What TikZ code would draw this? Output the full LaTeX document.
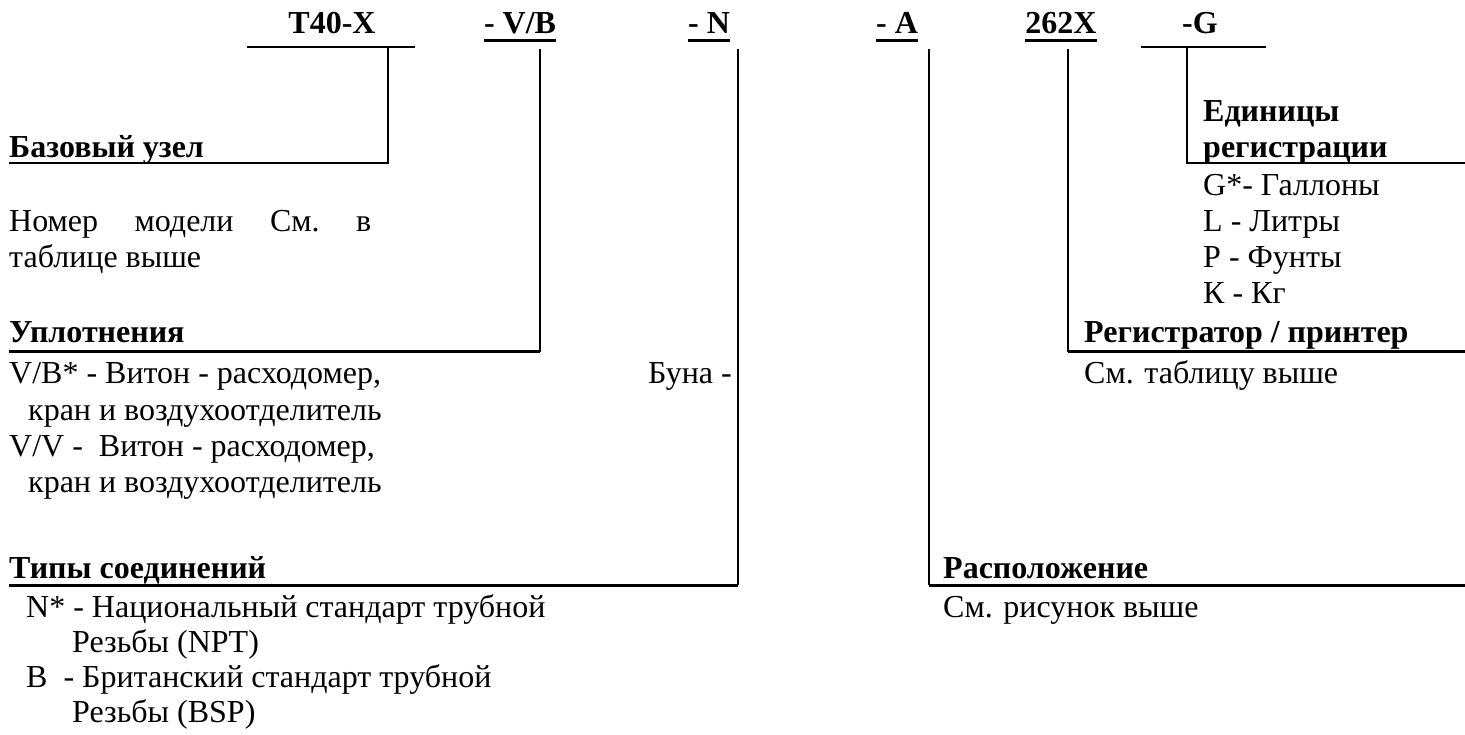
\documentclass[tikz,border=0pt]{standalone}
\usepackage{fontspec}
\setmainfont{Liberation Serif}
\begin{document}
\begin{tikzpicture}[x=1pt,y=-1pt,
  txt/.style={anchor=base west,inner sep=0pt,font=\fontsize{32}{36}\selectfont},
  bld/.style={anchor=base west,inner sep=0pt,font=\fontsize{32}{36}\selectfont\bfseries},
  hdr/.style={anchor=base,inner sep=0pt,font=\fontsize{32}{36}\selectfont\bfseries},
  thinln/.style={line width=2pt},
  thickln/.style={line width=3pt},
  uline/.style={line width=3pt}]
\useasboundingbox (0,0) rectangle (1465,735);

% header codes
\node[hdr] (h1) at (332,34) {T40-X};
\node[hdr] (h2) at (520,34) {- V/B};
\node[hdr] (h3) at (709,34) {- N};
\node[hdr] (h4) at (897,34) {- A};
\node[hdr] (h5) at (1061,34) {262X};
\node[hdr] (h6) at (1200,34) {-G};
\foreach \n in {h2,h3,h4,h5}
  \draw[uline] ([yshift=-7pt]\n.base west) -- ([yshift=-7pt]\n.base east);

% labels left
\node[bld] (bu) at (9,158) {Базовый узел};
\node[txt] (nm1) at (9,232) {\hbox to 362pt{Номер\hfill модели\hfill См.\hfill в}};
\node[txt] (nm2) at (9,268) {таблице выше};
\node[bld] (up) at (9,343) {Уплотнения};
\node[txt] (u1) at (9,384) {V/B* - Витон - расходомер,};
\node[txt] (u1b) at (648,384) {Буна -};
\node[txt] (u2) at (28,420) {кран и воздухоотделитель};
\node[txt] (u3) at (9,456) {V/V -\ \ Витон - расходомер,};
\node[txt] (u4) at (28,492) {кран и воздухоотделитель};
\node[bld] (ts) at (9,578) {Типы соединений};
\node[txt] (t1) at (26,617) {N* - Национальный стандарт трубной};
\node[txt] (t2) at (72,652) {Резьбы (NPT)};
\node[txt] (t3) at (26,687) {B\ \ - Британский стандарт трубной};
\node[txt] (t4) at (72,722) {Резьбы (BSP)};

% labels right
\node[bld] (e1) at (1203,122) {Единицы};
\node[bld] (e2) at (1203,158) {регистрации};
\node[txt] (g1) at (1203,196) {G*- Галлоны};
\node[txt] (g2) at (1203,232) {L - Литры};
\node[txt] (g3) at (1203,268) {P - Фунты};
\node[txt] (g4) at (1203,304) {К - Кг};
\node[bld] (rp) at (1084,343) {Регистратор / принтер};
\node[txt] (rp1) at (1084,384) {См. таблицу выше};
\node[bld] (rs) at (943,578) {Расположение};
\node[txt] (rs1) at (943,617) {См. рисунок выше};

% connector coordinates
\coordinate (a0) at (247,47);  \coordinate (a1) at (415,47);
\coordinate (a2) at (388,47);  \coordinate (a3) at (388,163); \coordinate (a4) at (9,163);
\coordinate (b1) at (540,49);  \coordinate (b2) at (540,352); \coordinate (b3) at (9,352);
\coordinate (c1) at (738,49);  \coordinate (c2) at (738,585); \coordinate (c3) at (9,585);
\coordinate (d1) at (929,49);  \coordinate (d2) at (929,585); \coordinate (d3) at (1465,585);
\coordinate (e1a) at (1068,49); \coordinate (e2a) at (1068,352); \coordinate (e3a) at (1465,352);
\coordinate (f0) at (1141,47); \coordinate (f1) at (1266,47);
\coordinate (f2) at (1187,47); \coordinate (f3) at (1187,163); \coordinate (f4) at (1465,163);

\draw[thinln] (a0) -- (a1);
\draw[thinln] (a2) -- (a3) -- (a4);
\draw[thinln] (b1) -- (b2);
\draw[thickln] (b2) -- (b3);
\draw[thinln] (c1) -- (c2);
\draw[thickln] (c2) -- (c3);
\draw[thinln] (d1) -- (d2);
\draw[thickln] (d2) -- (d3);
\draw[thinln] (e1a) -- (e2a);
\draw[thickln] (e2a) -- (e3a);
\draw[thinln] (f0) -- (f1);
\draw[thinln] (f2) -- (f3) -- (f4);
\end{tikzpicture}
\end{document}
